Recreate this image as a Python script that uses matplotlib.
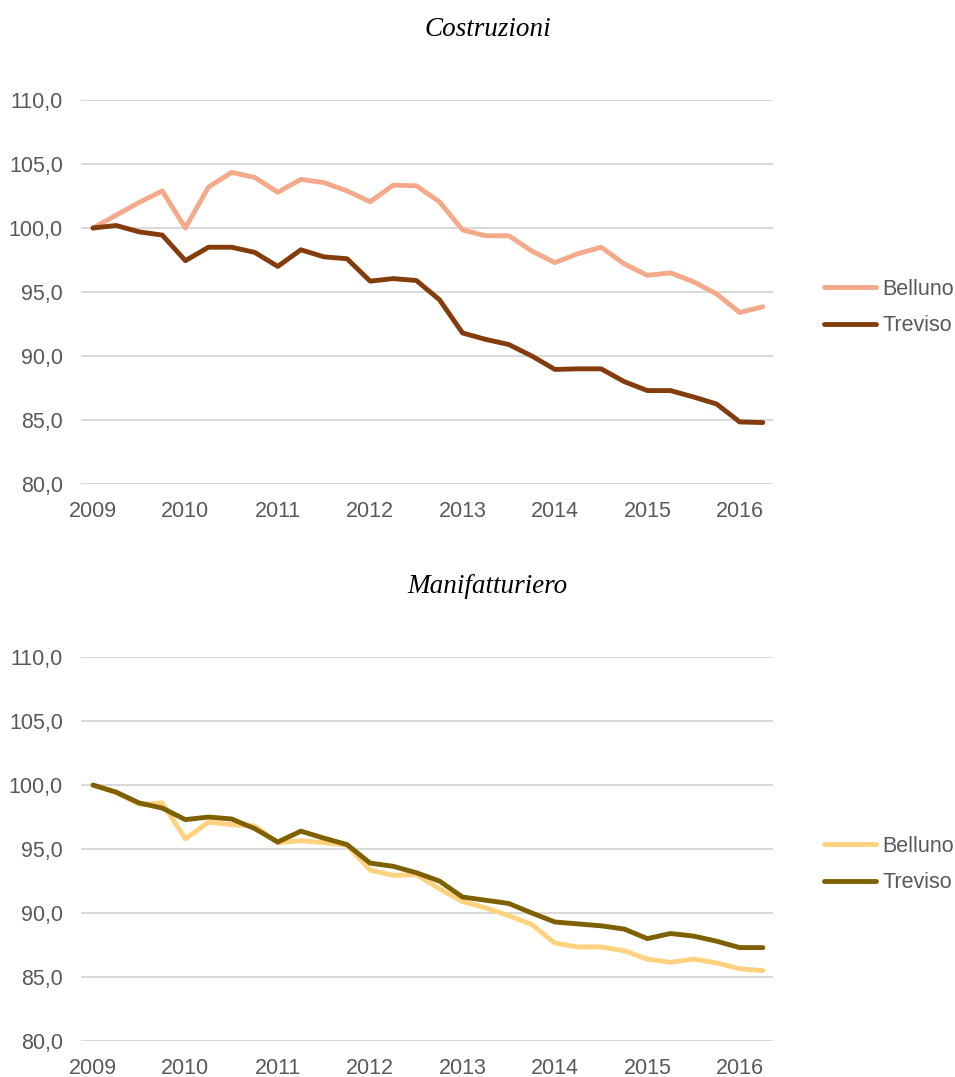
import matplotlib.pyplot as plt

# quarterly index, 2009 Q1 = 100
quarters = [2009 + 0.25 * i for i in range(30)]
years = [2009, 2010, 2011, 2012, 2013, 2014, 2015, 2016]
yticks = [80, 85, 90, 95, 100, 105, 110]

costr_belluno = [100.0, 101.0, 102.0, 102.9, 100.0, 103.2, 104.35, 103.95, 102.8, 103.8,
                 103.55, 102.9, 102.05, 103.35, 103.3, 102.05, 99.85, 99.4, 99.4, 98.2,
                 97.3, 98.0, 98.5, 97.2, 96.3, 96.5, 95.8, 94.85, 93.4, 93.85]
costr_treviso = [100.0, 100.2, 99.7, 99.45, 97.45, 98.5, 98.5, 98.1, 97.0, 98.3,
                 97.75, 97.6, 95.85, 96.05, 95.9, 94.4, 91.8, 91.3, 90.9, 90.0,
                 88.95, 89.0, 89.0, 88.0, 87.3, 87.3, 86.8, 86.25, 84.85, 84.8]

manif_belluno = [100.0, 99.4, 98.5, 98.6, 95.8, 97.1, 96.9, 96.8, 95.5, 95.65,
                 95.5, 95.3, 93.35, 92.95, 93.0, 91.9, 90.9, 90.4, 89.8, 89.1,
                 87.65, 87.35, 87.35, 87.05, 86.4, 86.15, 86.4, 86.1, 85.65, 85.5]
manif_treviso = [100.0, 99.45, 98.6, 98.2, 97.3, 97.5, 97.35, 96.6, 95.55, 96.4,
                 95.85, 95.35, 93.9, 93.65, 93.15, 92.5, 91.25, 91.0, 90.75, 90.0,
                 89.3, 89.15, 89.0, 88.75, 88.0, 88.4, 88.2, 87.8, 87.3, 87.3]

panels = [
    ("Costruzioni", costr_belluno, costr_treviso, "#F4AA8A", "#843C0C"),
    ("Manifatturiero", manif_belluno, manif_treviso, "#FFD27F", "#7F6000"),
]

fig = plt.figure(figsize=(9.55, 10.77), dpi=100)
boxes = [[0.0848, 0.5506, 0.7246, 0.3565], [0.0848, 0.0334, 0.7246, 0.3565]]

for box, (title, bell, trev, c_bell, c_trev) in zip(boxes, panels):
    ax = fig.add_axes(box)
    ax.plot(quarters, bell, color=c_bell, lw=3.5, label="Belluno", solid_capstyle="round")
    ax.plot(quarters, trev, color=c_trev, lw=3.5, label="Treviso", solid_capstyle="round")

    ax.set_xlim(2008.87, 2016.36)
    ax.set_ylim(80, 110)
    ax.set_xticks(years)
    ax.set_yticks(yticks)
    ax.set_yticklabels([f"{v:.1f}".replace(".", ",") for v in yticks])
    ax.grid(axis="y", color="#D6D6D6", lw=1.3)
    ax.set_axisbelow(True)
    for s in ax.spines.values():
        s.set_visible(False)
    ax.tick_params(axis="both", length=0, labelsize=15.5, colors="#595959",
                   labelfontfamily="Liberation Sans")
    ax.tick_params(axis="y", pad=13)
    ax.tick_params(axis="x", pad=12)

    ax.set_title(title, fontsize=19.5, fontstyle="italic", family="Liberation Serif",
                 pad=46, x=0.588)

    leg = ax.legend(loc="center left", bbox_to_anchor=(1.0737, 0.46), frameon=False,
                    borderpad=0, borderaxespad=0, handlelength=2.4, handletextpad=0.3,
                    labelspacing=0.72, prop={"family": "Liberation Sans", "size": 15.5})
    for t in leg.get_texts():
        t.set_color("#595959")

fig.savefig("out.png", dpi=100)
